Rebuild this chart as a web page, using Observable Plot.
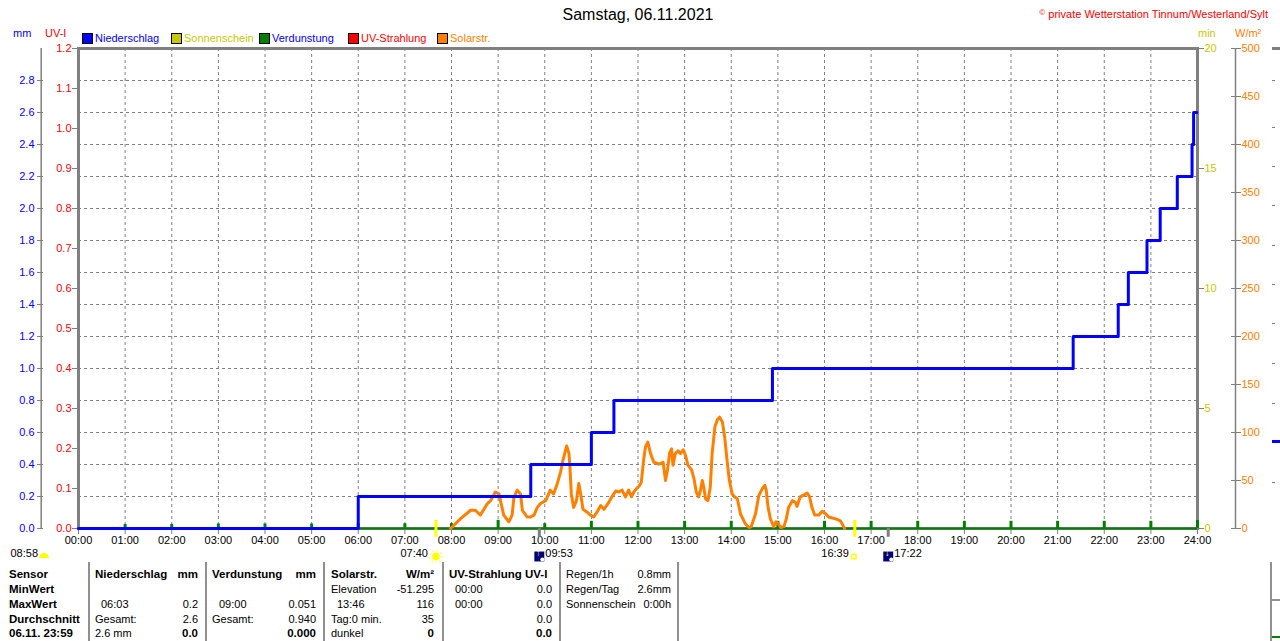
<!DOCTYPE html>
<html><head><meta charset="utf-8">
<script src="https://cdn.jsdelivr.net/npm/d3@7"></script>
<script src="https://cdn.jsdelivr.net/npm/@observablehq/plot@0.6"></script>
<style>
body{margin:0;background:#fff;width:1280px;height:641px;overflow:hidden;position:relative;
 font-family:"Liberation Sans",Arial,sans-serif;font-size:11px;color:#000;}
#chart{position:absolute;left:0;top:0}
.t{position:absolute;white-space:nowrap;line-height:13px;height:13px;}
.b{font-weight:bold;font-size:11.5px;}
.sw{position:absolute;width:9px;height:9px;border:1px solid #000;}
.ln{position:absolute;background:#909090;}
</style></head><body>
<div id="chart"></div>
<script>
// ---------- DATA ----------
const title = "Samstag, 06.11.2021";
const copyright = "private Wetterstation Tinnum/Westerland/Sylt";
const hourTicks = d3.range(0, 25);
const mmTicks = [0,0.2,0.4,0.6,0.8,1.0,1.2,1.4,1.6,1.8,2.0,2.2,2.4,2.6,2.8];
const uvTicks = [0,0.1,0.2,0.3,0.4,0.5,0.6,0.7,0.8,0.9,1.0,1.1,1.2];
const minTicks = [0,5,10,15,20];
const wTicks = [0,50,100,150,200,250,300,350,400,450,500];

// Niederschlag (cumulative mm)
const rainTimes  = ["00:00","06:00","09:42","11:00","11:29","14:53","21:20","22:18","22:31","22:55","23:12","23:34","23:53","23:55","23:59"];
const rainValues = [0,0.2,0.4,0.6,0.8,1.0,1.2,1.4,1.6,1.8,2.0,2.2,2.4,2.6,2.6];

// Solarstrahlung (W/m²), time in decimal hours
const solarHours = [7.98,8.19,8.41,8.51,8.62,8.77,8.84,8.94,9.02,9.05,9.12,9.23,9.30,9.34,9.41,9.48,9.52,9.62,9.69,9.77,9.84,9.91,
 10.02,10.12,10.19,10.27,10.34,10.39,10.47,10.52,10.54,10.57,10.62,10.68,10.73,10.77,10.82,10.91,10.98,
 11.05,11.12,11.20,11.27,11.37,11.44,11.52,11.59,11.66,11.73,11.80,11.86,11.91,11.96,
 12.02,12.07,12.12,12.16,12.21,12.27,12.34,12.45,12.54,12.59,12.63,12.68,12.72,12.75,12.80,12.86,12.91,12.97,
 13.02,13.07,13.15,13.20,13.25,13.30,13.34,13.38,13.41,13.45,13.50,13.55,13.59,13.65,13.70,13.75,13.81,13.86,13.91,13.96,
 14.02,14.07,14.13,14.20,14.30,14.38,14.43,14.52,14.59,14.66,14.72,14.75,14.79,14.84,14.91,14.96,
 15.01,15.06,15.13,15.18,15.23,15.31,15.38,15.41,15.48,15.56,15.63,15.68,15.73,15.79,15.88,15.95,
 16.01,16.09,16.24,16.34,16.41,16.43];
const solarValues = [0,10,19,19,14,26,29,38,36,29,14,7,14,33,40,36,19,12,12,14,22,26,
 29,40,36,47,59,71,86,78,64,36,22,29,47,36,20,17,14,
 12,17,24,20,27,33,39,38,40,33,40,33,38,41,
 44,48,71,85,90,78,69,67,69,50,60,79,83,66,78,81,78,82,
 76,66,61,52,38,33,40,50,43,31,29,43,78,106,113,116,111,95,71,50,
 36,33,31,15,5,1,2,15,34,41,45,40,22,10,2,7,
 5,1,2,10,22,29,27,23,33,35,37,33,22,14,14,18,
 16,12,10,8,2,0];

// Verdunstung per hour (mm)
const evapHours = d3.range(1, 25);
const evapValues = [0.025,0.025,0.028,0.028,0.028,0.03,0.03,0.03,0.051,0.03,0.045,0.045,0.045,0.045,0.045,0.045,0.045,0.045,0.045,0.045,0.045,0.045,0.045,0.05];

// Sun / moon events
const sunriseTime = "07:40", sunsetTime = "16:39";
const moonriseTime = "09:53", moonsetTime = "17:22";
const dayLength = "08:58";

// Legend
const legendNames = ["Niederschlag","Sonnenschein","Verdunstung","UV-Strahlung","Solarstr."];
const legendSwatch = ["#0000ff","#c8c800","#008000","#ff0000","#ff8000"];
const legendTextColor = ["#0000ff","#c8c800","#0000ff","#ff0000","#ff8000"];

// Table
const rowLabels = ["Sensor","MinWert","MaxWert","Durchschnitt","06.11. 23:59"];
const rainCol  = {head:["Niederschlag","mm"], rows:[["",""],["06:03","0.2"],["Gesamt:","2.6"],["2.6 mm","0.0"]]};
const evapCol  = {head:["Verdunstung","mm"], rows:[["",""],["09:00","0.051"],["Gesamt:","0.940"],["","0.000"]]};
const solarCol = {head:["Solarstr.","W/m²"], rows:[["Elevation","-51.295"],["13:46","116"],["Tag:0 min.","35"],["dunkel","0"]]};
const uvCol    = {head:["UV-Strahlung UV-I",""], rows:[["00:00","0.0"],["00:00","0.0"],["","0.0"],["","0.0"]]};
const extraLabels = ["Regen/1h","Regen/Tag","Sonnenschein"];
const extraValues = ["0.8mm","2.6mm","0:00h"];

// ---------- HELPERS ----------
const uvK = 2.5, minK = 0.15, wK = 0.006;   // convert to mm scale
const parseT = s => { const [a,b] = s.split(":").map(Number); return a + b/60; };
const fmtH = h => String(h).padStart(2,"0") + ":00";
const rain = rainTimes.map((t,i) => ({h: parseT(t), v: rainValues[i]}));
const solar = solarHours.map((h,i) => ({h, v: solarValues[i] * wK}));
const evap = evapHours.map((h,i) => ({h, v: evapValues[i]}));
const GRAY = "#808080";
const FONT = '"Liberation Sans",Arial,sans-serif';

const sunEv = [{h: parseT(sunriseTime), label: sunriseTime}];
const sunsetEv = [{h: parseT(sunsetTime), label: sunsetTime}];
const moonEv = [{h: parseT(moonriseTime), label: moonriseTime, arrow:"↑"}, {h: parseT(moonsetTime), label: moonsetTime, arrow:"↓"}];
const EVY = 28;

const plot = Plot.plot({
  width: 1280, height: 641,
  marginLeft: 78, marginRight: 83, marginTop: 48, marginBottom: 113,
  x: {domain: [0, 24], axis: null},
  y: {domain: [0, 3.0], axis: null},
  style: {fontFamily: FONT, fontSize: "11px", color: "#000", background: "transparent"},
  marks: [
    Plot.gridX(hourTicks.slice(1, 24), {stroke: GRAY, strokeOpacity: 1, strokeDasharray: "3,3"}),
    Plot.gridY(mmTicks.slice(1), {stroke: GRAY, strokeOpacity: 1, strokeDasharray: "3,3"}),
    Plot.frame({stroke: GRAY, strokeWidth: 3}),
    // axes
    Plot.axisX(hourTicks, {tickFormat: fmtH, stroke: GRAY, fill: "#000", tickSize: 6, tickPadding: 2, label: null}),
    Plot.axisY(uvTicks.map(v => v * uvK), {anchor: "left", tickFormat: d => (d / uvK).toFixed(1), stroke: GRAY, fill: "#ff0000", tickSize: 6, tickPadding: 1, label: null}),
    Plot.ruleX([0], {dx: -37.3, y1: 0, y2: 3.0, stroke: GRAY, strokeWidth: 1.5}),
    Plot.axisY(mmTicks, {anchor: "left", dx: -35, tickFormat: d => d.toFixed(1), stroke: GRAY, fill: "#0000ff", tickSize: 6, tickPadding: 3, label: null}),
    Plot.axisY(minTicks.map(v => v * minK), {anchor: "right", tickFormat: d => Math.round(d / minK), stroke: GRAY, fill: "#c8c800", tickSize: 6, tickPadding: 1, label: null}),
    Plot.ruleX([24], {dx: 38, y1: 0, y2: 3.0, stroke: GRAY, strokeWidth: 1.5}),
    Plot.axisY(wTicks.map(v => v * wK), {anchor: "right", dx: 33, tickFormat: d => Math.round(d / wK), stroke: GRAY, fill: "#ff8000", tickSize: 10, tickPadding: 1, label: null}),
    // data
    Plot.ruleY([0], {stroke: "#008000", strokeWidth: 2}),
    Plot.ruleX(evap, {x: "h", y1: 0, y2: "v", stroke: "#008000", strokeWidth: 3}),
    Plot.line(solar, {x: "h", y: "v", stroke: "#ff8000", strokeWidth: 3}),
    Plot.line(rain, {x: "h", y: "v", curve: "step-after", stroke: "#0000ff", strokeWidth: 3}),
    // sun & moon markers on axis
    Plot.ruleX(sunEv.concat(sunsetEv), {x: "h", y1: 0.05, y2: -0.055, stroke: "#ffff00", strokeWidth: 3}),
    Plot.ruleX(moonEv, {x: "h", y1: 0, y2: -0.055, stroke: GRAY, strokeWidth: 3}),
    // labels below the axis
    Plot.dot(sunEv, {x: "h", frameAnchor: "bottom", dy: EVY, r: 6, fill: "none", stroke: "#ffff90", strokeWidth: 2, strokeDasharray: "2,2"}),
    Plot.dot(sunEv, {x: "h", frameAnchor: "bottom", dy: EVY, r: 3.8, fill: "#ffff00"}),
    Plot.text(sunEv, {x: "h", frameAnchor: "bottom", dy: EVY, dx: -8, text: "label", textAnchor: "end", fill: "#000"}),
    Plot.dot(sunsetEv, {x: "h", frameAnchor: "bottom", dy: EVY, dx: -1, r: 2.5, symbol: "square", fill: "none", stroke: "#ffff00", strokeWidth: 1.5}),
    Plot.text(sunsetEv, {x: "h", frameAnchor: "bottom", dy: EVY, dx: -6, text: "label", textAnchor: "end", fill: "#000"}),
    Plot.dot(moonEv, {x: "h", frameAnchor: "bottom", dy: EVY, symbol: "square", r: 5.6, fill: "#000080"}),
    Plot.dot(moonEv, {x: "h", frameAnchor: "bottom", dy: EVY + 3, dx: 3, r: 2, fill: "#ffffff"}),
    Plot.text(moonEv, {x: "h", frameAnchor: "bottom", dy: EVY - 1, dx: -1, text: "arrow", fill: "#ffff00", fontWeight: "bold", fontSize: 10}),
    Plot.text(moonEv, {x: "h", frameAnchor: "bottom", dy: EVY, dx: 6, text: "label", textAnchor: "start", fill: "#000"}),
    Plot.text([dayLength], {x: 0, frameAnchor: "bottom", dy: EVY, dx: -68, text: d => d, textAnchor: "start", fill: "#000"})
  ]
});
document.getElementById("chart").appendChild(plot);

// ---------- HTML TEXT ----------
function place(txt, x, y, opt = {}) {
  const d = document.createElement("div");
  d.className = "t" + (opt.bold ? " b" : "");
  d.innerHTML = txt;
  d.style.top = (y - 6.5) + "px";
  if (opt.align === "right") d.style.right = (1280 - x) + "px";
  else if (opt.align === "center") { d.style.left = x + "px"; d.style.transform = "translateX(-50%)"; }
  else d.style.left = x + "px";
  if (opt.color) d.style.color = opt.color;
  if (opt.size) { d.style.fontSize = opt.size; d.style.lineHeight = "18px"; d.style.height = "18px"; d.style.top = (y - 9) + "px"; }
  document.body.appendChild(d);
  return d;
}
function box(cls, x, y, w, h, color) {
  const d = document.createElement("div");
  d.className = cls;
  Object.assign(d.style, {left: x + "px", top: y + "px", width: w + "px", height: h + "px"});
  if (color) d.style.background = color;
  document.body.appendChild(d);
}

place(title, 638, 15, {align: "center", size: "16px"});
place('<span style="font-size:8px;vertical-align:3px">©</span> ' + copyright, 1268, 12, {align: "right", color: "#ff0000"});

place("mm", 13, 33, {color: "#0000ff"});
place("UV-I", 45, 33, {color: "#ff0000"});
place("min", 1198, 33, {color: "#c8c800"});
place("W/m²", 1235, 33, {color: "#ff8000"});

const legendX = [82, 171, 259, 348, 437];
legendNames.forEach((n, i) => {
  const sq = document.createElement("div");
  sq.className = "sw";
  Object.assign(sq.style, {left: legendX[i] + "px", top: "33px", background: legendSwatch[i]});
  document.body.appendChild(sq);
  place(n, legendX[i] + 13, 38, {color: legendTextColor[i]});
});

// day length icon
const hc = document.createElement("div");
Object.assign(hc.style, {position: "absolute", left: "39px", top: "553px", width: "10px", height: "5px", background: "#ffff00", borderRadius: "5px 5px 0 0"});
document.body.appendChild(hc);

// table
const rowY = [574, 589, 604, 619, 633];
rowLabels.forEach((r, i) => place(r, 9, rowY[i], {bold: true}));
function col(c, xl, xsub, xr) {
  place(c.head[0], xl, rowY[0], {bold: true});
  if (c.head[1]) place(c.head[1], xr, rowY[0], {bold: true, align: "right"});
  c.rows.forEach((r, i) => {
    if (r[0]) place(r[0], /^\d\d:\d\d$/.test(r[0]) ? xsub : xl, rowY[i + 1]);
    if (r[1]) place(r[1], xr, rowY[i + 1], {align: "right", bold: i === 3});
  });
}
col(rainCol, 95, 101, 198);
col(evapCol, 212, 219, 316);
col(solarCol, 331, 337, 434);
col(uvCol, 449, 455, 552);
extraLabels.forEach((l, i) => { place(l, 566, rowY[i]); place(extraValues[i], 671, rowY[i], {align: "right"}); });
[88, 205, 323, 442, 559, 677].forEach(x => box("ln", x, 562, 1.5, 79));

// neighbouring chart edge (right)
box("ln", 1272, 47, 8, 3, GRAY);
[80, 127, 166, 205, 245, 284, 323, 363, 403, 482].forEach(y => box("ln", 1272, y, 3, 1, GRAY));
box("ln", 1272, 440, 8, 3, "#0000ff");
box("ln", 1270, 562, 1.5, 79);
box("ln", 1270, 599, 10, 1.5);
box("ln", 1272, 636, 8, 2, "#008000");
</script>
</body></html>
